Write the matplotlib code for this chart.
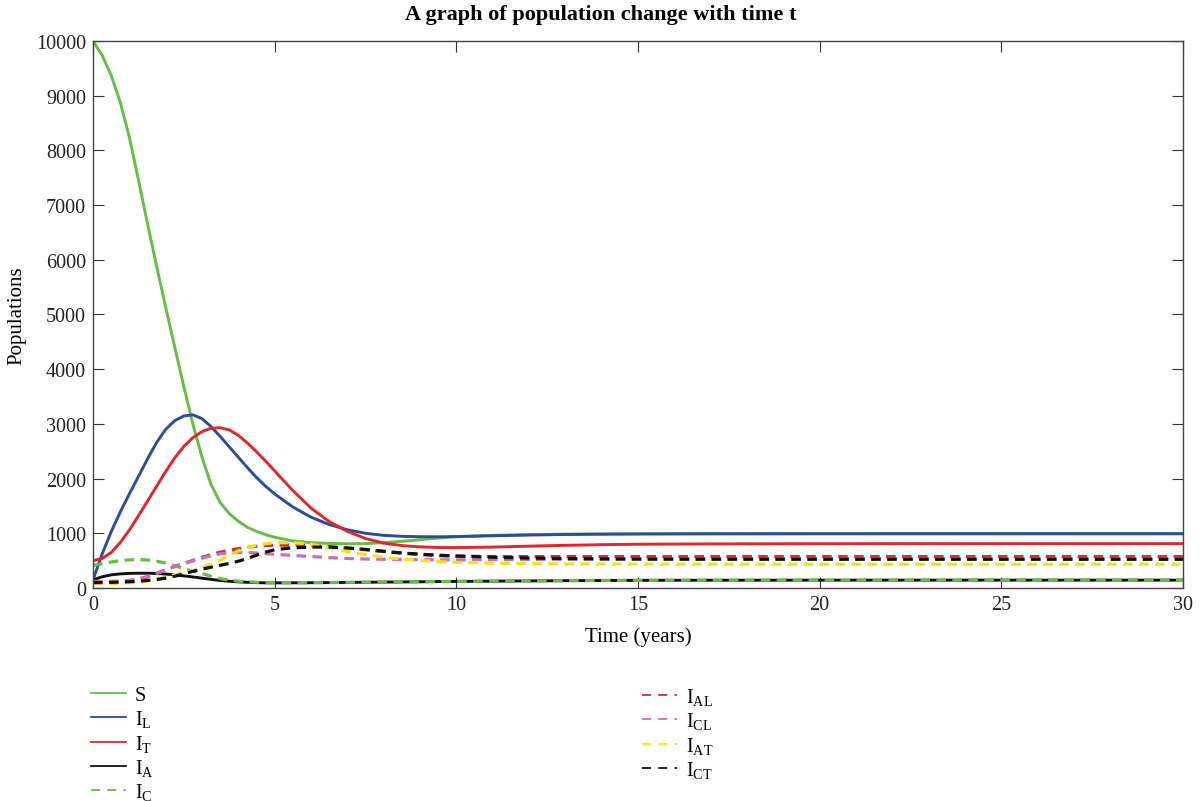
import numpy as np
import matplotlib.pyplot as plt
from matplotlib.lines import Line2D

plt.rcParams['font.family'] = ['Liberation Serif', 'DejaVu Serif']
plt.rcParams['mathtext.fontset'] = 'custom'
plt.rcParams['mathtext.rm'] = 'Liberation Serif'
plt.rcParams['mathtext.it'] = 'Liberation Serif:italic'

# time grid (years)
t = [0, 0.25, 0.5, 0.75, 1, 1.25, 1.5, 1.75, 2, 2.25, 2.5, 2.75, 3, 3.25, 3.5, 3.75,
     4, 4.25, 4.5, 4.75, 5, 5.5, 6, 6.5, 7, 7.5, 8, 8.5, 9, 9.5, 10, 11, 12, 13, 14,
     15, 17, 20, 25, 30]

S = [10000, 9740, 9370, 8880, 8240, 7460, 6660, 5880, 5130, 4400, 3680, 2990, 2390, 1890,
     1560, 1360, 1220, 1110, 1035, 975, 928, 860, 830, 815, 808, 812, 828, 853, 883, 913,
     938, 963, 977, 984, 988, 990, 991, 992, 992, 992]
I_L = [150, 620, 1030, 1390, 1720, 2040, 2360, 2660, 2900, 3060, 3145, 3165, 3095, 2950,
       2770, 2580, 2390, 2200, 2020, 1860, 1720, 1480, 1295, 1160, 1065, 1000, 962, 945,
       938, 936, 940, 955, 968, 978, 984, 988, 991, 992, 992, 992]
I_T = [500, 540, 650, 830, 1060, 1320, 1590, 1860, 2130, 2380, 2590, 2750, 2860, 2920,
       2930, 2890, 2790, 2650, 2490, 2320, 2140, 1780, 1460, 1215, 1035, 905, 820, 775,
       752, 740, 738, 748, 765, 780, 792, 800, 806, 810, 811, 811]
I_A = [150, 205, 240, 258, 267, 270, 270, 266, 255, 240, 222, 202, 180, 157, 138, 123,
       112, 104, 98, 95, 94, 95, 97, 99, 102, 105, 108, 111, 114, 117, 120, 125, 130, 134,
       137, 140, 142, 143, 144, 144]
I_C = [410, 445, 475, 500, 515, 520, 512, 490, 455, 405, 355, 310, 265, 215, 172, 142,
       125, 113, 105, 100, 98, 97, 98, 100, 103, 106, 109, 112, 115, 118, 121, 126, 131,
       135, 138, 140, 142, 143, 144, 144]
I_AL = [110, 108, 110, 118, 132, 160, 205, 270, 330, 395, 450, 505, 560, 610, 655, 690,
        720, 745, 762, 775, 782, 785, 775, 755, 730, 700, 665, 638, 612, 592, 582, 576,
        574, 574, 574, 575, 575, 575, 575, 575]
I_CL = [120, 118, 120, 128, 140, 165, 210, 265, 330, 395, 445, 495, 545, 590, 625, 645,
        650, 648, 640, 628, 615, 595, 575, 555, 540, 530, 525, 522, 518, 515, 515, 518,
        522, 526, 528, 530, 531, 532, 532, 532]
I_AT = [80, 80, 82, 88, 95, 105, 125, 155, 195, 245, 280, 315, 375, 440, 510, 590, 680,
        740, 780, 810, 828, 828, 800, 740, 665, 610, 565, 530, 505, 482, 468, 452, 445,
        440, 438, 437, 436, 435, 435, 435]
I_CT = [100, 100, 103, 108, 115, 125, 138, 155, 180, 215, 260, 305, 345, 380, 415, 450,
        490, 540, 600, 655, 700, 735, 748, 748, 732, 705, 672, 640, 618, 600, 585, 562,
        548, 538, 532, 528, 526, 525, 525, 525]

green = '#66bd45'
blue = '#2b4c9b'
red = '#e4252b'
black = '#111111'
dred = '#c8323a'
magenta = '#cc6cbc'
yellow = '#f0e414'

series = [
    ('S', S, green, '-'),
    ('I$_{\\rm L}$', I_L, blue, '-'),
    ('I$_{\\rm T}$', I_T, red, '-'),
    ('I$_{\\rm A}$', I_A, black, '-'),
    ('I$_{\\rm C}$', I_C, green, '--'),
    ('I$_{\\rm AL}$', I_AL, dred, '--'),
    ('I$_{\\rm CL}$', I_CL, magenta, '--'),
    ('I$_{\\rm AT}$', I_AT, yellow, '--'),
    ('I$_{\\rm CT}$', I_CT, black, '--'),
]

fig = plt.figure(figsize=(12.02, 8.03), dpi=100)
ax = fig.add_axes([0.0774, 0.2665, 0.9068, 0.6812])

handles = []
for name, vals, col, ls in series:
    if ls == '-':
        ax.plot(t, vals, color=col, lw=2.1, solid_capstyle='round', solid_joinstyle='round')
        handles.append(Line2D([], [], color=col, lw=1.3, label=name))
    else:
        ax.plot(t, vals, color=col, lw=2.3, dashes=(3, 2))
        handles.append(Line2D([], [], color=col, lw=1.3, dashes=(5, 4), label=name))

ax.set_xlim(0, 30)
ax.set_ylim(0, 10000)
ax.set_xticks(np.arange(0, 31, 5))
ax.set_yticks(np.arange(0, 10001, 1000))
ax.tick_params(direction='in', length=8, width=0.8, top=True, right=True,
               labelsize=14.5, pad=5, colors='#333333', labelcolor='#222222')
for sp in ax.spines.values():
    sp.set_color('#444444')
    sp.set_linewidth(1.0)

fig.text(0.5, 1 - 15 / 803, 'A graph of population change with time t', fontsize=16,
         fontweight='bold', ha='center', va='center')
ax.set_xlabel('Time (years)', fontsize=15, labelpad=9)
ax.set_ylabel('Populations', fontsize=15, labelpad=7)

legkw = dict(frameon=False, fontsize=14.5, handlelength=1.75, handletextpad=0.42,
             labelspacing=0.165, borderpad=0, borderaxespad=0, loc='upper left')
fig.legend(handles=handles[:5], bbox_to_anchor=(91 / 1202, 1 - 687 / 803), **legkw)
fig.legend(handles=handles[5:], bbox_to_anchor=(642 / 1202, 1 - 687 / 803), **legkw)

fig.savefig('out.png', dpi=100)
